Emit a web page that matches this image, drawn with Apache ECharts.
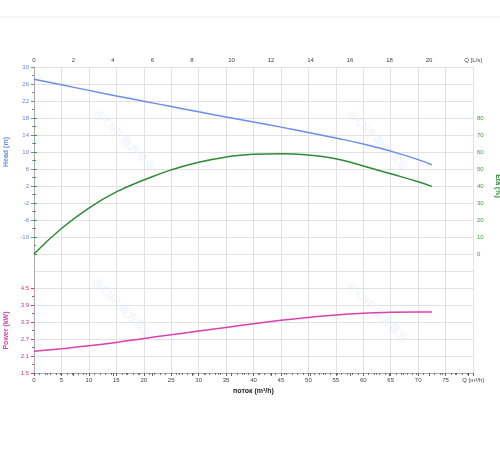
<!DOCTYPE html>
<html>
<head>
<meta charset="utf-8">
<script src="https://cdn.jsdelivr.net/npm/echarts@6/dist/echarts.min.js"></script>
<style>html,body{margin:0;padding:0;background:#fff;}#chart{width:500px;height:450px;}</style>
</head>
<body>
<div id="chart"></div>
<script>
// Flow (m³/h) sample points
const flowQ = [0, 5, 10, 15, 20, 25, 30, 35, 40, 45, 50, 55, 60, 65, 70, 72.5];
// Head (m)
const headM = [27.1, 25.8, 24.5, 23.2, 21.95, 20.7, 19.45, 18.25, 17.05, 15.85, 14.6, 13.3, 11.9, 10.2, 8.2, 7.0];
// Efficiency (%)
const etaPct = [0, 15, 27, 36.5, 43.5, 49.5, 54, 57, 58.7, 59, 58.2, 56, 51.8, 47.2, 42.5, 39.8];
// Power (kW)
const powerKW = [2.27, 2.36, 2.46, 2.58, 2.72, 2.85, 2.98, 3.11, 3.24, 3.36, 3.46, 3.55, 3.61, 3.64, 3.65, 3.65];

const FONT = 'Liberation Sans';
const headColor = '#6C8EEB';
const headLabel = '#6F82D9';
const etaColor = '#2F8A36';
const etaLabel = '#3E9A40';
const powColor = '#D940B0';
const powLabel = '#C8358F';
const gridGray = '#e2e2e2';
const axisGray = '#aaaaaa';

const pair = (ys) => flowQ.map((q, i) => [q, ys[i]]);

const chart = echarts.init(document.getElementById('chart'), null, {renderer: 'canvas'});

const gL = 34, gR = 27;
const gridBase = {left: gL, right: gR, containLabel: false, outerBoundsMode: 'none'};
const wm = (x, y) => ({type: 'text', x: x, y: y, rotation: -Math.PI / 4,
  style: {text: '@CNP 南方泵业', fontFamily: 'Noto Sans CJK SC', fontSize: 11, fontWeight: 'bold',
    fill: 'rgba(120,170,225,0.12)', align: 'center', verticalAlign: 'middle'}, silent: true, z: 0});

const option = {
  backgroundColor: '#fff',
  animation: false,
  textStyle: {fontFamily: FONT},
  grid: [
    Object.assign({}, gridBase, {top: 67, height: 306}),
    Object.assign({}, gridBase, {top: 67, height: 170}),
    Object.assign({}, gridBase, {top: 118, height: 136}),
    Object.assign({}, gridBase, {top: 288, height: 85})
  ],
  xAxis: [
    {
      gridIndex: 0, type: 'value', position: 'bottom', min: 0, max: 80, interval: 5,
      name: 'поток (m³/h)', nameLocation: 'middle', nameGap: 11,
      nameTextStyle: {fontFamily: FONT, fontSize: 7, fontWeight: 'bold', color: '#222'},
      axisLine: {show: true, lineStyle: {color: axisGray, width: 1}},
      axisTick: {show: true, length: 3, lineStyle: {color: '#666'}},
      minorTick: {show: true, splitNumber: 5, length: 2, lineStyle: {color: '#777'}},
      axisLabel: {fontFamily: FONT, fontSize: 6, color: '#444', margin: 4, interval: 0,
        formatter: v => v === 80 ? 'Q [m³/h]' : String(v)},
      splitLine: {show: true, lineStyle: {color: gridGray, width: 1}}
    },
    {
      gridIndex: 0, type: 'value', position: 'top', min: 0, max: 80 / 3.6, interval: 2,
      axisLine: {show: true, lineStyle: {color: axisGray, width: 1}},
      axisTick: {show: true, inside: true, length: 3, lineStyle: {color: '#666'}},
      minorTick: {show: true, splitNumber: 3, length: 2, lineStyle: {color: '#777'}},
      axisLabel: {fontFamily: FONT, fontSize: 6, color: '#444', margin: 4, interval: 0,
        formatter: v => v > 21 ? (v > 22.1 ? 'Q [L/s]' : '') : String(Math.round(v))},
      splitLine: {show: false}
    },
    {gridIndex: 1, type: 'value', min: 0, max: 80, show: false},
    {gridIndex: 2, type: 'value', min: 0, max: 80, show: false},
    {gridIndex: 3, type: 'value', min: 0, max: 80, show: false}
  ],
  yAxis: [
    {
      gridIndex: 0, type: 'value', position: 'left', min: 0, max: 18, interval: 1,
      axisLine: {show: true, lineStyle: {color: axisGray}},
      axisTick: {show: false}, axisLabel: {show: false},
      splitLine: {show: true, lineStyle: {color: gridGray, width: 1}}
    },
    {
      gridIndex: 0, type: 'value', position: 'right', min: 0, max: 18, interval: 1,
      axisLine: {show: true, lineStyle: {color: axisGray}},
      axisTick: {show: false}, axisLabel: {show: false}, splitLine: {show: false}
    },
    {
      gridIndex: 1, type: 'value', position: 'left', min: -10, max: 30, interval: 4,
      name: 'Head (m)', nameLocation: 'middle', nameGap: 23, nameRotate: 90,
      nameTextStyle: {fontFamily: FONT, fontSize: 7, fontWeight: 'bold', color: headColor},
      axisLine: {show: false},
      axisTick: {show: true, length: 3, lineStyle: {color: headLabel}},
      minorTick: {show: true, splitNumber: 2, length: 2, lineStyle: {color: headLabel}},
      axisLabel: {fontFamily: FONT, fontSize: 6, color: headLabel, margin: 5},
      splitLine: {show: false}
    },
    {
      gridIndex: 2, type: 'value', position: 'right', min: 0, max: 80, interval: 10,
      name: 'Eta (%)', nameLocation: 'middle', nameGap: 18, nameRotate: -90,
      nameTextStyle: {fontFamily: FONT, fontSize: 7, fontWeight: 'bold', color: etaColor},
      axisLine: {show: false},
      axisTick: {show: true, length: 3, lineStyle: {color: etaLabel}},
      minorTick: {show: true, splitNumber: 2, length: 2, lineStyle: {color: etaLabel}},
      axisLabel: {fontFamily: FONT, fontSize: 6, color: etaLabel, margin: 4},
      splitLine: {show: false}
    },
    {
      gridIndex: 3, type: 'value', position: 'left', min: 1.5, max: 4.5, interval: 0.6,
      name: 'Power (kW)', nameLocation: 'middle', nameGap: 23, nameRotate: 90,
      nameTextStyle: {fontFamily: FONT, fontSize: 7, fontWeight: 'bold', color: powColor},
      axisLine: {show: false},
      axisTick: {show: true, length: 3, lineStyle: {color: powLabel}},
      minorTick: {show: true, splitNumber: 2, length: 2, lineStyle: {color: powLabel}},
      axisLabel: {fontFamily: FONT, fontSize: 6, color: powLabel, margin: 5,
        formatter: v => v.toFixed(1)},
      splitLine: {show: false}
    }
  ],
  graphic: [
    {type: 'line', shape: {x1: 0, y1: 17, x2: 500, y2: 17}, style: {stroke: '#ececec', lineWidth: 1}, silent: true},
    wm(125, 140), wm(378, 140), wm(123, 308), wm(378, 312)
  ],
  series: [
    {type: 'line', name: 'Head', xAxisIndex: 2, yAxisIndex: 2, data: pair(headM), smooth: true, showSymbol: false,
      lineStyle: {color: headColor, width: 1.5}, itemStyle: {color: headColor}},
    {type: 'line', name: 'Eta', xAxisIndex: 3, yAxisIndex: 3, data: pair(etaPct), smooth: true, showSymbol: false,
      lineStyle: {color: etaColor, width: 1.5}, itemStyle: {color: etaColor}},
    {type: 'line', name: 'Power', xAxisIndex: 4, yAxisIndex: 4, data: pair(powerKW), smooth: true, showSymbol: false,
      lineStyle: {color: powColor, width: 1.5}, itemStyle: {color: powColor}}
  ]
};
chart.setOption(option);
</script>
</body>
</html>
